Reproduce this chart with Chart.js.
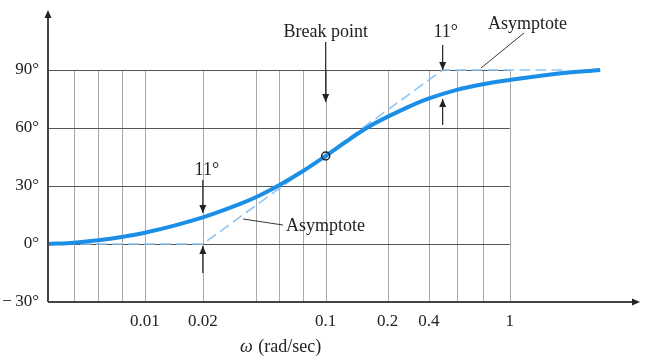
<!DOCTYPE html>
<html>
<head>
<meta charset="utf-8">
<script src="https://cdn.jsdelivr.net/npm/chart.js@4.4.1/dist/chart.umd.min.js"></script>
<style>
  html, body { margin: 0; padding: 0; background: #fff; }
  #wrap { width: 665px; height: 364px; position: relative; }
</style>
</head>
<body>
<div id="wrap"><canvas id="chart"></canvas></div>
<script>
// phase curve (omega in rad/sec, phase in degrees)
const omega = [0.0031, 0.0043, 0.0058, 0.0078, 0.0104, 0.0215, 0.034, 0.0417, 0.0555, 0.075, 0.1,
               0.167, 0.262, 0.358, 0.515, 0.713, 1, 1.71, 3.1];
const phase = [0, 0.7, 1.9, 3.6, 5.8, 13.8, 20.6, 24.2, 30.3, 37.6, 45.5,
               60, 69.5, 75.0, 79.7, 82.6, 84.8, 87.8, 90];

// straight-line asymptote
const asymOmega = [0.0031, 0.0215, 0.432, 2.0];
const asymPhase = [0, 0, 90, 90];

// break point marker
const breakOmega = [0.1];
const breakPhase = [45.5];

// vertical grid lines and their labels (as drawn on the figure)
const gridOmega  = [0.0043, 0.0058, 0.0078, 0.0104, 0.0215, 0.0417, 0.0555, 0.075, 0.1, 0.217, 0.363, 0.515, 0.713, 1];
const gridLabels = ['', '', '', '0.01', '0.02', '', '', '', '0.1', '0.2', '0.4', '', '', '1'];

const phaseTicks = [-30, 0, 30, 60, 90];
const phaseTickLabels = ['\u2212\u200930\u00b0', '0\u00b0', '30\u00b0', '60\u00b0', '90\u00b0'];

const serif = "'Liberation Serif', 'Times New Roman', serif";

const toPoints = (xs, ys) => xs.map((x, i) => ({ x: x, y: ys[i] }));

function head(ctx, x, y, dir) {
  const w = 3.5, l = 8;
  ctx.beginPath();
  if (dir === 'down') { ctx.moveTo(x, y); ctx.lineTo(x - w, y - l); ctx.lineTo(x + w, y - l); }
  if (dir === 'up') { ctx.moveTo(x, y); ctx.lineTo(x - w, y + l); ctx.lineTo(x + w, y + l); }
  if (dir === 'right') { ctx.moveTo(x, y); ctx.lineTo(x - l, y - w); ctx.lineTo(x - l, y + w); }
  ctx.closePath();
  ctx.fill();
}

function vArrow(ctx, x, y0, y1) {
  ctx.beginPath();
  ctx.moveTo(x, y0);
  ctx.lineTo(x, y1);
  ctx.stroke();
  head(ctx, x, y1, y1 > y0 ? 'down' : 'up');
}

const gridPlugin = {
  id: 'bodeGrid',
  beforeDatasetsDraw(chart) {
    const { ctx, scales: { x, y } } = chart;
    ctx.save();
    ctx.lineWidth = 1;
    ctx.strokeStyle = '#a8a8a8';
    gridOmega.forEach(w => {
      const px = Math.round(x.getPixelForValue(w)) + 0.5;
      ctx.beginPath();
      ctx.moveTo(px, y.getPixelForValue(90));
      ctx.lineTo(px, y.getPixelForValue(-30));
      ctx.stroke();
    });
    ctx.strokeStyle = '#555';
    [0, 30, 60, 90].forEach(v => {
      const py = Math.round(y.getPixelForValue(v)) + 0.5;
      ctx.beginPath();
      ctx.moveTo(x.left, py);
      ctx.lineTo(x.getPixelForValue(1), py);
      ctx.stroke();
    });
    ctx.restore();
  },
  afterDatasetsDraw(chart) {
    const { ctx, scales: { x, y }, chartArea: a } = chart;
    ctx.save();
    // axes with arrows
    ctx.strokeStyle = '#444';
    ctx.fillStyle = '#222';
    ctx.lineWidth = 2;
    ctx.beginPath();
    ctx.moveTo(a.left, a.bottom);
    ctx.lineTo(a.right - 4, a.bottom);
    ctx.moveTo(a.left, a.bottom);
    ctx.lineTo(a.left, a.top + 4);
    ctx.stroke();
    head(ctx, a.right, a.bottom, 'right');
    head(ctx, a.left, a.top, 'up');

    // annotations
    ctx.lineWidth = 1.2;
    ctx.strokeStyle = '#222';
    ctx.font = '18px ' + serif;
    ctx.textAlign = 'center';
    ctx.textBaseline = 'alphabetic';

    const xb = x.getPixelForValue(0.1);
    ctx.fillText('Break point', xb, 37);
    vArrow(ctx, xb, 42, 102);

    const xr = x.getPixelForValue(0.432);
    ctx.fillText('11\u00b0', xr + 3, 37);
    vArrow(ctx, xr, 45, y.getPixelForValue(90));
    vArrow(ctx, xr, 125, y.getPixelForValue(75));

    const xl = x.getPixelForValue(0.0215);
    ctx.fillText('11\u00b0', xl + 4, 175);
    vArrow(ctx, xl, 180, y.getPixelForValue(16));
    vArrow(ctx, xl, 273, y.getPixelForValue(-1));

    ctx.textAlign = 'left';
    ctx.fillText('Asymptote', 488, 29);
    ctx.fillText('Asymptote', 286, 231);
    ctx.lineWidth = 0.9;
    ctx.beginPath();
    ctx.moveTo(524, 33);
    ctx.lineTo(481, 68);
    ctx.moveTo(283, 225);
    ctx.lineTo(243, 219);
    ctx.stroke();

    // axis title: italic omega + unit
    ctx.font = 'italic 18px ' + serif;
    ctx.fillText('\u03c9', 240, 352);
    const wOmega = ctx.measureText('\u03c9').width;
    ctx.font = '18px ' + serif;
    ctx.fillText(' (rad/sec)', 240 + wOmega + 1, 352);
    ctx.restore();
  }
};

new Chart(document.getElementById('chart'), {
  type: 'scatter',
  data: {
    datasets: [
      {
        data: toPoints(breakOmega, breakPhase),
        pointRadius: 4,
        pointBorderWidth: 1.5,
        pointBorderColor: '#222',
        pointBackgroundColor: 'rgba(0,0,0,0)',
        showLine: false,
        order: 0
      },
      {
        data: toPoints(omega, phase),
        showLine: true,
        borderColor: '#1b8fe6',
        borderWidth: 4,
        pointRadius: 0,
        cubicInterpolationMode: 'monotone',
        order: 1
      },
      {
        data: toPoints(asymOmega, asymPhase),
        showLine: true,
        borderColor: '#8fc5f5',
        borderWidth: 1.6,
        borderDash: [11, 5],
        pointRadius: 0,
        tension: 0,
        order: 2
      }
    ]
  },
  plugins: [gridPlugin],
  options: {
    responsive: true,
    maintainAspectRatio: false,
    animation: false,
    layout: { padding: { top: 10, right: 25, left: 0, bottom: 0 } },
    plugins: { legend: { display: false }, tooltip: { enabled: false } },
    scales: {
      x: {
        type: 'logarithmic',
        min: 0.0031,
        max: 5.1,
        grid: { display: false, drawTicks: false },
        border: { display: false },
        afterBuildTicks: s => { s.ticks = gridOmega.map(v => ({ value: v })); },
        afterFit: s => { s.height = 62; s.paddingLeft = 0; s.paddingRight = 0; },
        ticks: {
          autoSkip: false,
          maxRotation: 0,
          padding: 9,
          color: '#222',
          font: { family: serif, size: 17 },
          callback: (v, i) => gridLabels[i]
        }
      },
      y: {
        min: -30,
        max: 121,
        grid: { display: false, drawTicks: false },
        border: { display: false },
        afterBuildTicks: s => { s.ticks = phaseTicks.map(v => ({ value: v })); },
        afterFit: s => { s.width = 48; s.paddingTop = 0; s.paddingBottom = 0; },
        ticks: {
          padding: 9,
          color: '#222',
          font: { family: serif, size: 17 },
          callback: (v, i) => phaseTickLabels[i]
        }
      }
    }
  }
});
</script>
</body>
</html>
